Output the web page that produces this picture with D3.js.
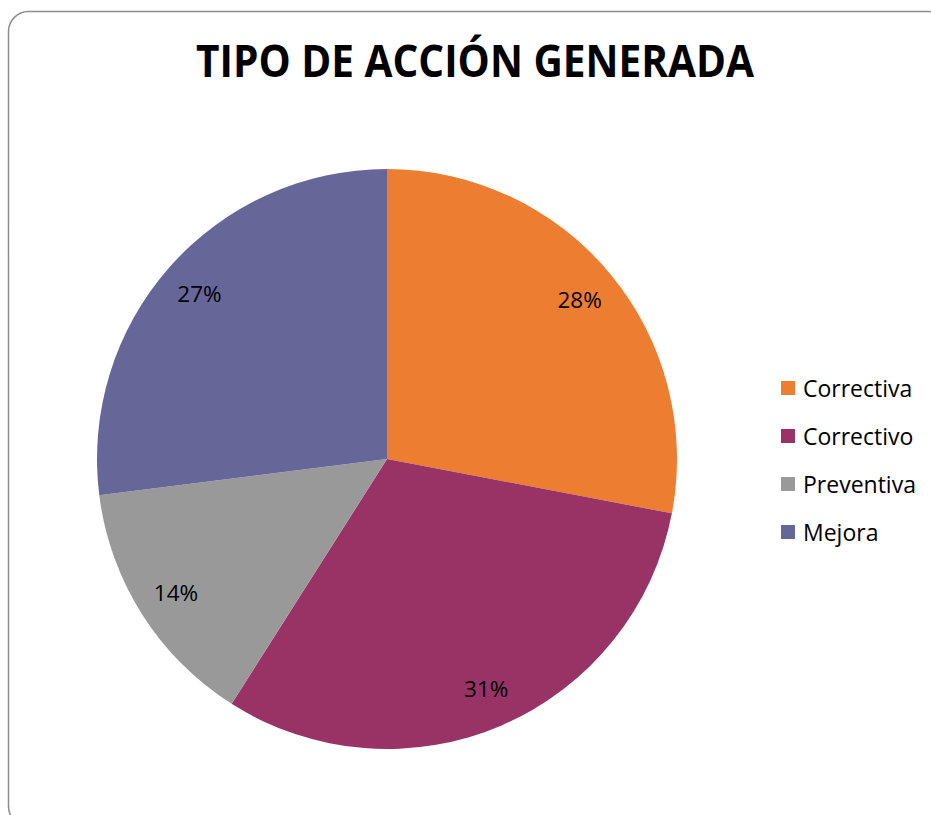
<!DOCTYPE html>
<html>
<head>
<meta charset="utf-8">
<script src="https://cdn.jsdelivr.net/npm/d3@7"></script>
<style>
html,body{margin:0;padding:0;background:#fff;}
svg{display:block;}
</style>
</head>
<body>
<svg id="chart" width="931" height="815"></svg>
<script>
const title = "TIPO DE ACCIÓN GENERADA";
const categories = ["Correctiva", "Correctivo", "Preventiva", "Mejora"];
const values = [28, 31, 14, 27];
const colors = ["#ED7D31", "#993366", "#999999", "#666699"];

const svg = d3.select("#chart");
const font = "'Open Sans', 'Noto Sans', sans-serif";

// frame
svg.append("rect")
  .attr("x", 8.5).attr("y", 11.5)
  .attr("width", 940).attr("height", 815)
  .attr("rx", 20).attr("ry", 20)
  .attr("fill", "#fff").attr("stroke", "#8c8c8c").attr("stroke-width", 1.5);

// title
svg.append("text")
  .attr("x", 475).attr("y", 77)
  .attr("text-anchor", "middle")
  .attr("font-family", font).attr("font-weight", "bold")
  .attr("font-size", 44)
  .attr("textLength", 558).attr("lengthAdjust", "spacingAndGlyphs")
  .attr("fill", "#000")
  .text(title);

const cx = 387, cy = 459, R = 290;
const data = categories.map((c, i) => ({cat: c, value: values[i], color: colors[i]}));
const pie = d3.pie().value(d => d.value).sort(null);
const arcs = pie(data);
const arc = d3.arc().innerRadius(0).outerRadius(R);
const labelArc = d3.arc().innerRadius(R * 0.862).outerRadius(R * 0.862);
const total = d3.sum(values);

const g = svg.append("g").attr("transform", `translate(${cx},${cy})`);
g.selectAll("path.slice").data(arcs).join("path")
  .attr("class", "slice")
  .attr("d", arc)
  .attr("fill", d => d.data.color);

g.selectAll("text.lbl").data(arcs).join("text")
  .attr("class", "lbl")
  .attr("transform", d => `translate(${labelArc.centroid(d)})`)
  .attr("text-anchor", "middle")
  .attr("dominant-baseline", "central")
  .attr("font-family", font).attr("font-size", 22.5)
  .attr("fill", "#000")
  .text(d => d3.format(".0%")(d.data.value / total));

// legend
const lg = svg.append("g");
const legY = d3.scalePoint().domain(categories).range([388, 532]);
const items = lg.selectAll("g").data(data).join("g")
  .attr("transform", d => `translate(781,${legY(d.cat)})`);
items.append("rect")
  .attr("x", 0).attr("y", -7).attr("width", 14).attr("height", 14)
  .attr("fill", d => d.color);
items.append("text")
  .attr("x", 22).attr("y", 0)
  .attr("dominant-baseline", "central")
  .attr("font-family", font).attr("font-size", 23)
  .attr("fill", "#000")
  .text(d => d.cat);
</script>
</body>
</html>
